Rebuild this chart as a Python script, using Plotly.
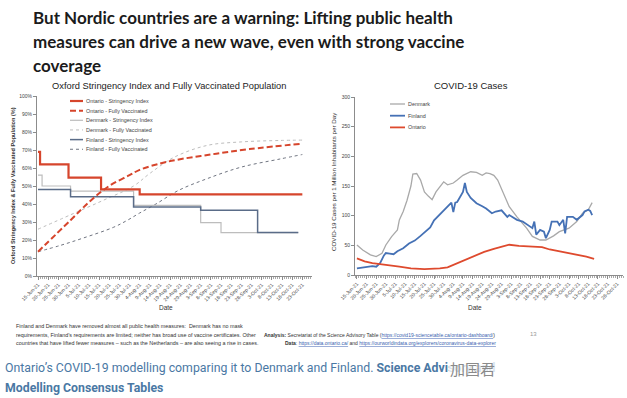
import pandas as pd
import plotly.graph_objects as go

W, H = 627, 398
START = pd.Timestamp("2021-06-15")

# ---------------- Left chart data (days since 15-Jun-21, %) ----------------
ON_SI_DAY = [0, 1, 15, 31, 50, 130]
ON_SI_VAL = [69.0, 62.0, 54.6, 48.1, 45.4, 45.4]
DK_SI_DAY = [0, 2, 16, 47, 80, 90, 128]
DK_SI_VAL = [56.0, 50.0, 47.2, 39.2, 29.6, 24.1, 24.1]
FI_SI_DAY = [0, 16, 47, 80, 108, 128]
FI_SI_VAL = [48.1, 44.0, 38.4, 36.5, 24.1, 24.1]

ON_FV_DAY = [0, 16, 26, 35, 45, 50, 60, 68, 85, 104, 130]
ON_FV_VAL = [13.5, 31, 42, 50, 56, 59, 62.5, 64.5, 67.5, 70.5, 73.5]
DK_FV_DAY = [0, 16, 32, 47, 55, 67, 83, 100, 119, 130]
DK_FV_VAL = [26, 34, 42, 50, 57, 66, 72.5, 74.5, 75.3, 75.5]
FI_FV_DAY = [0, 11, 22, 37, 44, 50, 58, 69, 83, 100, 119, 130]
FI_FV_VAL = [13.5, 17, 21, 27, 31, 35, 40, 47.5, 54, 60.5, 65, 67.5]

# ---------------- Right chart data (cases per 1M per day) ----------------
DK_C_DAY = [0, 3, 7, 10, 13, 15, 18, 21, 22, 24, 26, 28, 29, 31, 33, 35, 37, 39, 41, 43,
            45, 47, 50, 52, 55, 59, 62, 65, 67, 69, 71, 73, 76, 79, 83, 88, 91, 95, 98,
            102, 105, 110, 114, 117, 120, 122]
DK_C_VAL = [50.6, 42, 34, 31, 36.6, 50.6, 64.6, 76, 92.7, 107, 126, 150, 170, 171, 160,
            140, 133, 127, 140, 148, 157, 152, 155, 160, 168, 174, 173, 168, 172, 171,
            168, 160, 138, 115, 98, 79, 65, 59, 59, 66, 73, 79, 90, 104, 110, 122]
FI_C_DAY = [0, 4, 8, 10, 12, 14, 15, 17, 19, 21, 24, 27, 30, 33, 35, 38, 40, 43, 46, 48,
            49, 50, 51, 52, 53, 55, 56, 57, 59, 62, 65, 67, 70, 72, 75, 78, 79, 83, 86,
            88, 91, 92, 93, 95, 97, 98, 100, 101, 104, 105, 107, 108, 109, 112, 114,
            117, 118, 120, 121, 122]
FI_C_VAL = [11, 13, 15, 14, 20, 33, 37, 36, 35, 40, 45, 53, 58, 66, 72, 80, 92, 102, 113,
            120, 122, 106, 122, 123, 128, 140, 155, 140, 130, 121, 116, 112, 104, 107,
            109, 98, 101, 93, 90, 85, 79, 90, 68, 76, 73, 62, 76, 90, 90, 84, 93, 70,
            98, 98, 93, 101, 107, 110, 108, 101]
ON_C_DAY = [0, 4, 8, 12, 15, 22, 28, 35, 43, 47, 50, 54, 58, 62, 66, 71, 76, 79, 84, 90,
            96, 100, 105, 110, 116, 119, 123]
ON_C_VAL = [28, 23, 20, 19, 17, 14, 11, 10, 11, 13, 17, 23, 29, 34, 39, 44, 49, 51, 49,
            48, 47, 43, 40, 37, 34, 31, 27]

TITLE_LINES = ["But Nordic countries are a warning: Lifting public health",
               "measures can drive a new wave, even with strong vaccine",
               "coverage"]
LEFT_TITLE = "Oxford Stringency Index and Fully Vaccinated Population"
RIGHT_TITLE = "COVID-19 Cases"
LEFT_YTITLE = "Oxford Stringency Index & Fully Vaccinated Population (%)"
RIGHT_YTITLE = "COVID-19 Cases per 1 Million Inhabitants per Day"
LEFT_LEGEND = ["Ontario - Stringency Index", "Ontario - Fully Vaccinated",
               "Denmark - Stringency Index", "Denmark - Fully Vaccinated",
               "Finland - Stringency Index", "Finland - Fully Vaccinated"]
RIGHT_LEGEND = ["Denmark", "Finland", "Ontario"]


def dates(days):
    return START + pd.to_timedelta(days, unit="D")


RED = "#d6452c"
LGRAY = "#bdbdbd"
SLATE = "#5a6c88"
DGRAY = "#6f7480"

STY_LEFT = [
    dict(color=RED, width=2.2, dash="solid"),
    dict(color=RED, width=2.0, dash="6px,3px"),
    dict(color=LGRAY, width=1.2, dash="solid"),
    dict(color=LGRAY, width=1.0, dash="3px,3px"),
    dict(color=SLATE, width=1.5, dash="solid"),
    dict(color=DGRAY, width=1.0, dash="3px,3px"),
]
STY_RIGHT = [
    dict(color="#a9a9a9", width=1.3),
    dict(color="#4571b5", width=1.8),
    dict(color="#de4a2e", width=1.8),
]

fig = go.Figure()

left_series = [
    (ON_SI_DAY, ON_SI_VAL, "hv"), (ON_FV_DAY, ON_FV_VAL, "spline"),
    (DK_SI_DAY, DK_SI_VAL, "hv"), (DK_FV_DAY, DK_FV_VAL, "spline"),
    (FI_SI_DAY, FI_SI_VAL, "hv"), (FI_FV_DAY, FI_FV_VAL, "spline"),
]
order = [3, 5, 2, 4, 1, 0]
for i in order:
    d, v, shape = left_series[i]
    fig.add_trace(go.Scatter(x=dates(d), y=v, mode="lines", line=dict(shape=shape, **STY_LEFT[i]),
                             name=LEFT_LEGEND[i], showlegend=False, xaxis="x", yaxis="y"))

right_series = [(DK_C_DAY, DK_C_VAL), (FI_C_DAY, FI_C_VAL), (ON_C_DAY, ON_C_VAL)]
for i, (d, v) in enumerate(right_series):
    fig.add_trace(go.Scatter(x=dates(d), y=v, mode="lines", line=STY_RIGHT[i],
                             name=RIGHT_LEGEND[i], showlegend=False, xaxis="x2", yaxis="y2"))


def px_x(x):
    return x / W


def px_y(y):
    return 1 - y / H


AX = "#8c8c8c"
TICKF = dict(family="Liberation Sans", size=5, color="#444")
xcommon = dict(type="date", tickformat="%-d-%b-%y", tick0="2021-06-15", dtick=5 * 86400000,
               tickangle=-45, showgrid=False, zeroline=False, showline=True, linecolor=AX,
               linewidth=1, ticks="outside", ticklen=3, tickcolor=AX, tickfont=TICKF,
               minor=dict(dtick=86400000, ticks="outside", ticklen=2, tickcolor="#aaa"))

fig.update_layout(
    width=W, height=H, margin=dict(l=0, r=0, t=0, b=0, pad=0, autoexpand=False),
    paper_bgcolor="white", plot_bgcolor="white", showlegend=False,
    xaxis=dict(domain=[px_x(37), px_x(312)], anchor="y", automargin=False,
               range=["2021-06-14 12:00", "2021-10-27 18:00"], **xcommon),
    yaxis=dict(domain=[px_y(276), px_y(96)], anchor="x", range=[0, 100], dtick=10,
               automargin=False,
               ticksuffix="%", showgrid=False, zeroline=False, showline=True, linecolor=AX,
               ticks="outside", ticklen=3, tickcolor=AX, tickfont=TICKF),
    xaxis2=dict(domain=[px_x(355), px_x(623)], anchor="y2", automargin=False,
                range=["2021-06-14", "2021-10-31"], **xcommon),
    yaxis2=dict(domain=[px_y(275), px_y(97)], anchor="x2", range=[0, 300], dtick=50,
                automargin=False,
                showgrid=False, zeroline=False, showline=True, linecolor=AX,
                ticks="outside", ticklen=3, tickcolor=AX, tickfont=TICKF),
)

anns = []
shapes = []


def ann(text, x, y, size, family="Liberation Sans", color="#222", xanchor="left",
        yanchor="middle", textangle=0, **kw):
    anns.append(dict(text=text, x=px_x(x), y=px_y(y), xref="paper", yref="paper",
                     showarrow=False, xanchor=xanchor, yanchor=yanchor, textangle=textangle,
                     font=dict(family=family, size=size, color=color), **kw))


TFONT = "Lato, Liberation Sans, Arial"
SFONT = "Liberation Sans, Arial"
for i, line in enumerate(TITLE_LINES):
    ann("<b>%s</b>" % line, 31, 17 + 24.3 * i, 17, family=TFONT, color="#1b1b1b")

ann(LEFT_TITLE, 169, 86, 9.3, family=SFONT, color="#222", xanchor="center")
ann(RIGHT_TITLE, 471, 86, 9.5, family=SFONT, color="#222", xanchor="center")
ann("<b>%s</b>" % LEFT_YTITLE, 13, 186, 5.6, family=SFONT, color="#333",
    xanchor="center", textangle=-90)
ann("%s" % RIGHT_YTITLE, 333, 182, 6.2, family=SFONT, color="#333",
    xanchor="center", textangle=-90)
ann("Date", 166, 307, 6.5, family=SFONT, color="#333", xanchor="center")
ann("Date", 475, 307, 6.5, family=SFONT, color="#333", xanchor="center")

for i, name in enumerate(LEFT_LEGEND):
    yy = 101 + 9.65 * i
    s = STY_LEFT[i]
    shapes.append(dict(type="line", xref="paper", yref="paper", x0=px_x(70), x1=px_x(83),
                       y0=px_y(yy), y1=px_y(yy), line=dict(color=s["color"], width=s["width"],
                                                           dash=s["dash"])))
    ann(name, 84, yy, 5.4, family=SFONT, color="#444")
for i, name in enumerate(RIGHT_LEGEND):
    yy = 104 + 11.7 * i
    s = STY_RIGHT[i]
    shapes.append(dict(type="line", xref="paper", yref="paper", x0=px_x(390), x1=px_x(405),
                       y0=px_y(yy), y1=px_y(yy), line=dict(color=s["color"], width=s["width"])))
    ann(name, 406, yy, 5.4, family=SFONT, color="#444")

FOOT_L = ["Finland and Denmark have removed almost all public health measures:  Denmark has no mask",
          "requirements, Finland\u2019s requirements are limited; neither has broad use of vaccine certificates. Other",
          "countries that have lifted fewer measures \u2013 such as the Netherlands \u2013 are also seeing a rise in cases."]
for i, line in enumerate(FOOT_L):
    ann(line, 14, 326 + 8.5 * i, 5.4, family=SFONT, color="#333")

LINK = "color:#3b5fb0;text-decoration:underline"
ann("<b>Analysis:</b> Secretariat of the Science Advisory Table (<span style='%s'>https://covid19-sciencetable.ca/ontario-dashboard/</span>)" % LINK,
    497, 334.5, 5.0, family=SFONT, color="#333", xanchor="right")
ann("<b>Data</b>: <span style='%s'>https://data.ontario.ca/</span> and <span style='%s'>https://ourworldindata.org/explorers/coronavirus-data-explorer</span>" % (LINK, LINK),
    498, 343, 5.0, family=SFONT, color="#333", xanchor="right")
ann("13", 528, 334, 6, family=SFONT, color="#999")

CAP = "#4a78a4"
ann("Ontario\u2019s COVID-19 modelling comparing it to Denmark and Finland. <b>Science Advisory and</b>",
    3, 368, 12.3, family="Roboto", color=CAP)
ann("<b>Modelling Consensus Tables</b>", 3, 388, 12.3, family="Roboto", color=CAP)
ann("加国君", 472, 368, 15, family="Noto Sans CJK SC", color="#8a8a8a", xanchor="center",
    bgcolor="rgba(255,255,255,0.8)")

fig.update_layout(annotations=anns, shapes=shapes)
fig.write_html("out.html", config={"displayModeBar": False},
               post_script="document.body.style.margin='0px';")
